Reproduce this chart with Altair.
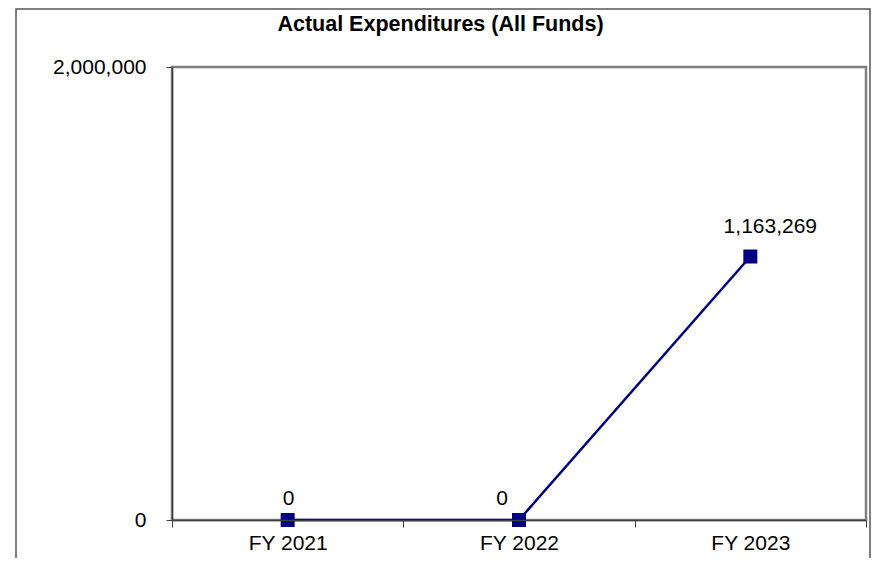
import altair as alt
import pandas as pd

categories = ["FY 2021", "FY 2022", "FY 2023"]
values = [0, 0, 1163269]
labels = ["0", "0", "1,163,269"]
chart_title = "Actual Expenditures (All Funds)"

df = pd.DataFrame({"year": categories, "value": values, "label": labels})

FONT = "Liberation Sans"
NAVY = "#000080"
FS = 21

x_enc = alt.X(
    "year:N",
    sort=categories,
    scale=alt.Scale(type="band", paddingInner=0, paddingOuter=0),
    axis=alt.Axis(
        title=None, labelAngle=0, tickBand="extent", grid=False,
        domainColor="#404040", domainWidth=1.5, tickColor="#404040", tickWidth=1,
        tickSize=7, labelPadding=5, labelFontSize=FS, labelFont=FONT,
        labelColor="#000000", zindex=1,
    ),
)
y_enc = alt.Y(
    "value:Q",
    scale=alt.Scale(domain=[0, 2000000], nice=False),
    axis=alt.Axis(
        title=None, values=[0, 2000000], format=",d", grid=False,
        domainColor="#404040", domainWidth=1.5, tickColor="#404040", tickWidth=1,
        tickSize=6, labelPadding=20, labelFontSize=FS, labelFont=FONT,
        labelColor="#000000", zindex=1,
    ),
)

base = alt.Chart(df)

frame = alt.Chart(alt.Data(values=[{}])).mark_rect(
    fill=None, stroke="#555555", strokeWidth=1.5, clip=False
).encode(
    x=alt.value(-156), x2=alt.value(698), y=alt.value(-58), y2=alt.value(620)
)

title = alt.Chart(alt.Data(values=[{"t": chart_title}])).mark_text(
    font=FONT, fontSize=21.5, fontWeight="bold", color="#000000",
    align="center", baseline="middle", clip=False
).encode(x=alt.value(268.5), y=alt.value(-42), text="t:N")

line = base.mark_line(color=NAVY, strokeWidth=2.5).encode(x=x_enc, y=y_enc)
pts = base.mark_point(shape="square", filled=True, size=196, color=NAVY, opacity=1).encode(
    x=x_enc, y=y_enc
)

label_offsets = {"FY 2021": (1, -21), "FY 2022": (-17, -21), "FY 2023": (20, -30)}
text_layers = []
for cat, (dx, dy) in label_offsets.items():
    text_layers.append(
        base.transform_filter(alt.datum.year == cat)
        .mark_text(font=FONT, fontSize=FS, color="#000000", dx=dx, dy=dy, baseline="middle")
        .encode(x=x_enc, y=y_enc, text="label:N")
    )

chart = alt.layer(frame, title, line, pts, *text_layers).properties(
    width=694,
    height=453,
    autosize=alt.AutoSizeParams(type="none"),
    padding={"left": 164, "top": 59, "right": 6, "bottom": 38},
).configure_view(stroke="#808080", strokeWidth=2.5)

chart.save("out.html", embed_options={"renderer": "svg", "actions": False})
